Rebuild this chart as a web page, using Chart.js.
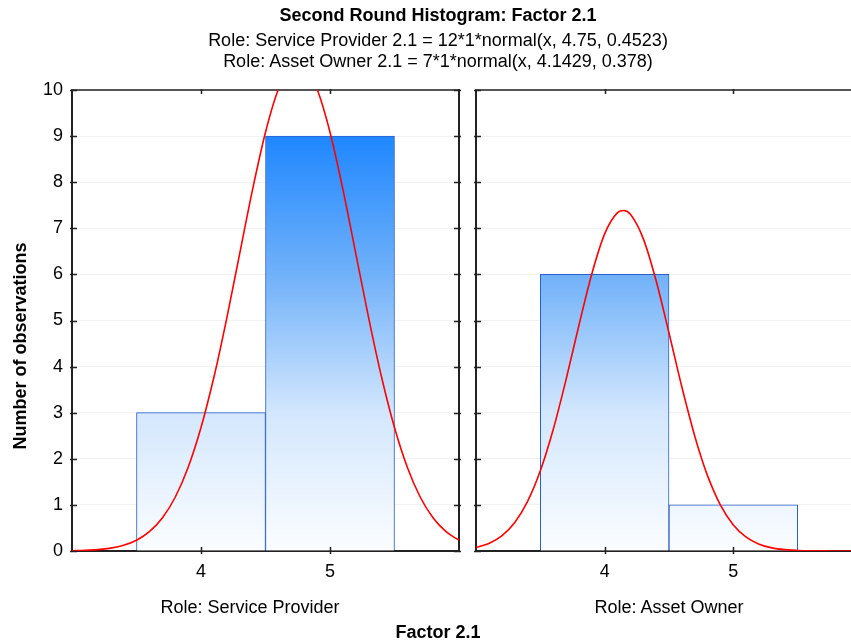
<!DOCTYPE html>
<html>
<head>
<meta charset="utf-8">
<script src="https://cdn.jsdelivr.net/npm/chart.js@4.4.0/dist/chart.umd.min.js"></script>
<style>
  html, body { margin: 0; padding: 0; background: #fff; overflow: hidden; }
  #wrap { position: relative; width: 851px; height: 644px; overflow: hidden; font-family: "Liberation Sans", Arial, sans-serif; color: #000; }
  .box { position: absolute; }
  .txt { position: absolute; white-space: nowrap; text-align: center; font-size: 18px; line-height: 20px; }
  .bold { font-weight: bold; }
</style>
</head>
<body>
<div id="wrap">
  <div class="box" style="left:0;top:0;width:470px;height:644px;"><canvas id="providerChart"></canvas></div>
  <div class="box" style="left:465px;top:0;width:397px;height:644px;"><canvas id="ownerChart"></canvas></div>

  <div class="txt bold" style="left:138px;top:5px;width:600px;">Second Round Histogram: Factor 2.1</div>
  <div class="txt" style="left:138px;top:30px;width:600px;">Role: Service Provider 2.1 = 12*1*normal(x, 4.75, 0.4523)</div>
  <div class="txt" style="left:138px;top:51px;width:600px;">Role: Asset Owner 2.1 = 7*1*normal(x, 4.1429, 0.378)</div>

  <div class="txt bold" style="left:-130px;top:336px;width:300px;transform:rotate(-90deg);">Number of observations</div>

  <div class="txt" style="left:50px;top:597px;width:400px;">Role: Service Provider</div>
  <div class="txt" style="left:469px;top:597px;width:400px;">Role: Asset Owner</div>
  <div class="txt bold" style="left:238px;top:622px;width:400px;">Factor 2.1</div>
</div>

<script>
// histogram bins (centre of each bin)
const binCenters = [4, 5];
const providerCounts = [3, 9];
const ownerCounts = [6, 1];
const xTickLabels = [4, 5];

// fitted normal curves
const curveX = [3.0, 3.1, 3.2, 3.3, 3.4, 3.5, 3.6, 3.7, 3.8, 3.9, 4.0, 4.1, 4.15, 4.2, 4.3, 4.4, 4.5,
                4.6, 4.7, 4.75, 4.8, 4.9, 5.0, 5.1, 5.2, 5.3, 5.4, 5.5, 5.6, 5.7, 5.8, 5.9, 6.0];
const providerCurve = [0.006, 0.014, 0.030, 0.062, 0.123, 0.232, 0.418, 0.715, 1.166, 1.810, 2.677, 3.769, 4.391,
                       5.053, 6.452, 7.846, 9.085, 10.018, 10.52, 10.58, 10.52, 10.018, 9.085, 7.846, 6.452,
                       5.053, 3.769, 2.677, 1.810, 1.166, 0.715, 0.418, 0.232];
const ownerCurve = [0.077, 0.164, 0.329, 0.615, 1.071, 1.739, 2.634, 3.719, 4.896, 6.010, 6.878, 7.340, 7.387,
                    7.304, 6.776, 5.862, 4.729, 3.556, 2.494, 2.034, 1.630, 0.994, 0.565, 0.300, 0.148,
                    0.068, 0.029, 0.012, 0.004, 0.002, 0.001, 0.000, 0.000];

Chart.defaults.font.family = '"Liberation Sans", Arial, sans-serif';
Chart.defaults.font.size = 18;
Chart.defaults.color = '#000';
Chart.defaults.animation = false;

const AXIS = '#222';

function barFill(ctx) {
    const chart = ctx.chart;
    if (!chart.chartArea) return '#8cc0fa';
    const y = chart.scales.y;
    const g = chart.ctx.createLinearGradient(0, y.getPixelForValue(0), 0, y.getPixelForValue(10));
    g.addColorStop(0, '#fbfdff');
    g.addColorStop(0.3, '#d3e7fd');
    g.addColorStop(0.6, '#70b1f9');
    g.addColorStop(0.9, '#1f87ff');
    g.addColorStop(1, '#1a84ff');
    return g;
}

// small inward tick marks on all four sides of each panel
const innerTicks = {
    id: 'innerTicks',
    afterDraw(chart) {
        const { ctx, chartArea: a, scales: { x, y } } = chart;
        ctx.save();
        ctx.strokeStyle = AXIS;
        ctx.lineWidth = 1.5;
        ctx.beginPath();
        y.ticks.forEach(t => {
            const py = Math.round(y.getPixelForValue(t.value)) + 0.5;
            ctx.moveTo(a.left - 2, py); ctx.lineTo(a.left + 5, py);
            ctx.moveTo(a.right + 2, py); ctx.lineTo(a.right - 5, py);
        });
        x.ticks.forEach(t => {
            const px = Math.round(x.getPixelForValue(t.value)) + 0.5;
            ctx.moveTo(px, a.bottom + 3); ctx.lineTo(px, a.bottom - 4);
            ctx.moveTo(px, a.top - 1); ctx.lineTo(px, a.top + 4);
        });
        ctx.stroke();
        ctx.restore();
    }
};

function makePanel(id, counts, curve, showYLabels, yWidth, padRight) {
    const ctx = document.getElementById(id).getContext('2d');
    return new Chart(ctx, {
        type: 'bar',
        data: {
            datasets: [
                {
                    type: 'line',
                    data: curveX.map((v, i) => ({ x: v, y: curve[i] })),
                    borderColor: '#ff0000',
                    borderWidth: 1.6,
                    pointRadius: 0,
                    cubicInterpolationMode: 'monotone',
                    fill: false,
                    order: 0
                },
                {
                    type: 'bar',
                    data: binCenters.map((v, i) => ({ x: v, y: counts[i] })),
                    backgroundColor: barFill,
                    borderColor: '#2d5fcc',
                    borderWidth: 1,
                    barPercentage: 1,
                    categoryPercentage: 1,
                    order: 1
                }
            ]
        },
        options: {
            responsive: true,
            maintainAspectRatio: false,
            layout: { padding: { top: 90, right: padRight, bottom: 0, left: 0 } },
            plugins: { legend: { display: false }, tooltip: { enabled: false } },
            scales: {
                x: {
                    type: 'linear',
                    min: 3,
                    max: 6,
                    offset: false,
                    afterBuildTicks: s => { s.ticks = xTickLabels.map(v => ({ value: v })); },
                    afterFit: s => { s.height = 93; },
                    grid: { display: false, offset: false, drawTicks: false },
                    border: { color: AXIS, width: 2 },
                    ticks: { padding: 10, maxRotation: 0 }
                },
                y: {
                    min: 0,
                    max: 10,
                    afterFit: s => { s.width = yWidth; },
                    grid: { color: '#f2f2f2', drawTicks: false },
                    border: { color: AXIS, width: 2 },
                    ticks: { stepSize: 1, padding: 9, display: showYLabels }
                },
                xTop: {
                    type: 'linear',
                    position: 'top',
                    afterFit: s => { s.height = 0; },
                    grid: { drawOnChartArea: false, drawTicks: false },
                    border: { color: '#555', width: 2 },
                    ticks: { display: false }
                },
                yRight: {
                    type: 'linear',
                    position: 'right',
                    afterFit: s => { s.width = 0; },
                    grid: { drawOnChartArea: false, drawTicks: false },
                    border: { color: AXIS, width: 2 },
                    ticks: { display: false }
                }
            }
        },
        plugins: [innerTicks]
    });
}

makePanel('providerChart', providerCounts, providerCurve, true, 72, 11);
makePanel('ownerChart', ownerCounts, ownerCurve, false, 11, 0);
</script>
</body>
</html>
